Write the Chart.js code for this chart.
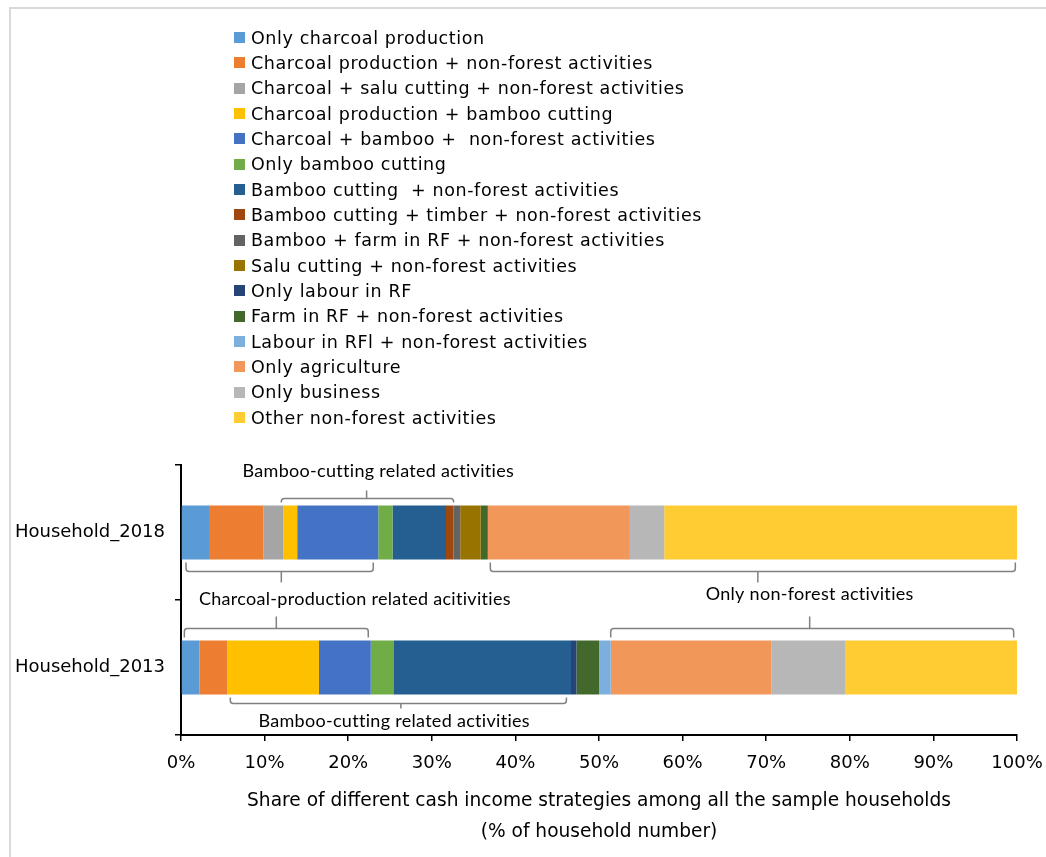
<!DOCTYPE html>
<html>
<head>
<meta charset="utf-8">
<script src="https://cdn.jsdelivr.net/npm/chart.js@4.4.1/dist/chart.umd.min.js"></script>
<style>
  html, body { margin: 0; padding: 0; background: #fff; }
  #wrap { position: relative; width: 1046px; height: 857px; overflow: hidden; }
  #frame { position: absolute; left: 9px; top: 7px; width: 1100px; height: 900px;
           border-left: 2px solid #D9D9D9; border-top: 2px solid #D9D9D9; }
  #chart { position: absolute; left: 0; top: 0; }
  #legend { position: absolute; left: 234px; top: 25px; margin: 0; padding: 0; list-style: none;
            font-family: 'DejaVu Sans'; font-size: 17.5px; letter-spacing: 0.6px; color: #000; }
  #legend li { height: 25.33px; display: flex; align-items: center; white-space: pre; }
  #legend .box { width: 11px; height: 11px; margin-right: 6px; flex: none; }
</style>
</head>
<body>
<div id="wrap">
  <div id="frame"></div>
  <canvas id="chart" width="1046" height="857"></canvas>
  <ul id="legend"></ul>
</div>
<script>
var categories = ['Household_2018', 'Household_2013'];

var strategies = [
    'Only charcoal production',
    'Charcoal production + non-forest activities',
    'Charcoal + salu cutting + non-forest activities',
    'Charcoal production + bamboo cutting',
    'Charcoal + bamboo +  non-forest activities',
    'Only bamboo cutting',
    'Bamboo cutting  + non-forest activities',
    'Bamboo cutting + timber + non-forest activities',
    'Bamboo + farm in RF + non-forest activities',
    'Salu cutting + non-forest activities',
    'Only labour in RF',
    'Farm in RF + non-forest activities',
    'Labour in RFl + non-forest activities',
    'Only agriculture',
    'Only business',
    'Other non-forest activities'
];

// % of households
var share2018 = [3.35, 6.5, 2.4, 1.65, 9.7, 1.7, 6.4, 0.9, 0.8, 2.45, 0, 0.85, 0, 17.0, 4.1, 42.2];
var share2013 = [2.2, 3.3, 0, 11.0, 6.2, 2.7, 21.25, 0, 0, 0, 0.65, 2.7, 1.4, 19.2, 8.9, 20.5];

var colors = [
    '#5B9BD5', '#ED7D31', '#A5A5A5', '#FFC000', '#4472C4', '#70AD47', '#255E91', '#9E480E',
    '#636363', '#997300', '#264478', '#43682B', '#7CAFDD', '#F1975A', '#B7B7B7', '#FFCD33'
];

var xTicks = [0, 10, 20, 30, 40, 50, 60, 70, 80, 90, 100];

// group brackets, in % along the bar
var brackets = [
    { row: 0, side: 'top',    from: 12.0, to: 32.6, mid: 22.2, gap: 7,  hook: 4, tick: 8 },
    { row: 0, side: 'bottom', from: 0.6,  to: 23.0, mid: 12.0, gap: 12, hook: 9, tick: 11 },
    { row: 0, side: 'bottom', from: 37.0, to: 99.8, mid: 69.0, gap: 12, hook: 9, tick: 11 },
    { row: 1, side: 'top',    from: 0.4,  to: 22.4, mid: 11.4, gap: 12, hook: 9, tick: 12 },
    { row: 1, side: 'top',    from: 51.4, to: 99.6, mid: 75.2, gap: 12, hook: 9, tick: 12 },
    { row: 1, side: 'bottom', from: 5.9,  to: 46.1, mid: 26.3, gap: 9,  hook: 6, tick: 5 }
];

var notes = [
    { text: 'Bamboo-cutting related activities',       row: 0, at: 23.6, dy: -61 },
    { text: 'Charcoal-production related acitivities', row: 0, at: 20.8, dy: 67 },
    { text: 'Only non-forest activities',              row: 0, at: 75.2, dy: 62 },
    { text: 'Bamboo-cutting related activities',       row: 1, at: 25.5, dy: 54 }
];

var bracketPlugin = {
    id: 'brackets',
    afterDatasetsDraw: function(chart) {
        var ctx = chart.ctx;
        var xs = chart.scales.x;
        var bars = chart.getDatasetMeta(0).data;
        ctx.save();
        ctx.strokeStyle = '#808080';
        ctx.lineWidth = 1.5;
        brackets.forEach(function(b) {
            var bar = bars[b.row];
            var dir = b.side === 'top' ? -1 : 1;
            var lineY = bar.y + dir * (bar.height / 2 + b.gap);
            var x1 = xs.getPixelForValue(b.from);
            var x2 = xs.getPixelForValue(b.to);
            var xm = xs.getPixelForValue(b.mid);
            var r = 3;
            ctx.beginPath();
            ctx.moveTo(x1, lineY - dir * b.hook);
            ctx.lineTo(x1, lineY - dir * r);
            ctx.quadraticCurveTo(x1, lineY, x1 + r, lineY);
            ctx.lineTo(x2 - r, lineY);
            ctx.quadraticCurveTo(x2, lineY, x2, lineY - dir * r);
            ctx.lineTo(x2, lineY - dir * b.hook);
            ctx.moveTo(xm, lineY);
            ctx.lineTo(xm, lineY + dir * b.tick);
            ctx.stroke();
        });
        ctx.fillStyle = '#000';
        ctx.font = '18px Lato';
        ctx.letterSpacing = '0.3px';
        ctx.textAlign = 'center';
        ctx.textBaseline = 'middle';
        notes.forEach(function(n) {
            var bar = bars[n.row];
            ctx.fillText(n.text, xs.getPixelForValue(n.at), bar.y + n.dy);
        });
        ctx.letterSpacing = '0px';
        ctx.restore();
    }
};

var htmlLegend = {
    id: 'htmlLegend',
    afterUpdate: function(chart) {
        var ul = document.getElementById('legend');
        ul.innerHTML = '';
        var items = Chart.defaults.plugins.legend.labels.generateLabels(chart);
        items.forEach(function(item) {
            var li = document.createElement('li');
            var box = document.createElement('span');
            box.className = 'box';
            box.style.background = item.fillStyle;
            var txt = document.createElement('span');
            txt.textContent = item.text;
            li.appendChild(box);
            li.appendChild(txt);
            ul.appendChild(li);
        });
    }
};

var datasets = strategies.map(function(name, i) {
    return {
        label: name,
        data: [share2018[i], share2013[i]],
        backgroundColor: colors[i],
        borderWidth: 0,
        barPercentage: 0.4,
        categoryPercentage: 1
    };
});

new Chart(document.getElementById('chart'), {
    type: 'bar',
    data: { labels: categories, datasets: datasets },
    plugins: [bracketPlugin, htmlLegend],
    options: {
        indexAxis: 'y',
        responsive: false,
        animation: false,
        layout: { padding: { top: 465, left: 0, right: 29, bottom: 0 } },
        plugins: {
            legend: { display: false },
            tooltip: { enabled: false }
        },
        scales: {
            x: {
                stacked: true,
                min: 0,
                max: 100,
                afterBuildTicks: function(scale) {
                    scale.ticks = xTicks.map(function(v) { return { value: v }; });
                },
                afterFit: function(scale) {
                    scale.height = 122;
                    scale.paddingLeft = 0;
                    scale.paddingRight = 0;
                },
                ticks: {
                    callback: function(v) { return v + '%'; },
                    color: '#000',
                    padding: 12,
                    maxRotation: 0,
                    font: { family: 'DejaVu Sans', size: 18 }
                },
                grid: { drawOnChartArea: false, color: '#000', lineWidth: 1.5, tickLength: 6 },
                border: { color: '#000', width: 2 },
                title: {
                    display: true,
                    text: ['Share of different cash income strategies among all the sample households',
                           '(% of household number)'],
                    color: '#000',
                    font: { family: 'DejaVu Sans', size: 18.6, lineHeight: 1.67 },
                    padding: { top: 0, bottom: 9 }
                }
            },
            y: {
                stacked: true,
                afterFit: function(scale) { scale.width = 181; },
                ticks: {
                    color: '#000',
                    padding: 10,
                    font: { family: 'DejaVu Sans', size: 18 }
                },
                grid: { drawOnChartArea: false, offset: true, color: '#000', lineWidth: 1.5, tickLength: 6 },
                border: { color: '#000', width: 2 }
            }
        }
    }
});
</script>
</body>
</html>
